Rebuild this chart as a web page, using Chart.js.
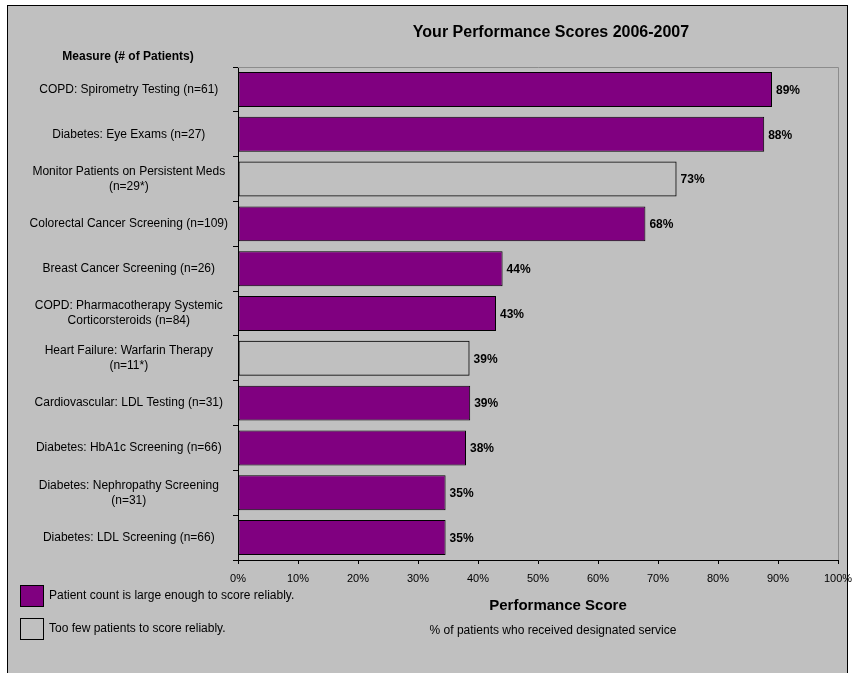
<!DOCTYPE html>
<html>
<head>
<meta charset="utf-8">
<title>Your Performance Scores 2006-2007</title>
<script src="https://cdn.jsdelivr.net/npm/chart.js@4"></script>
<style>
  html, body { margin: 0; padding: 0; background: #ffffff; }
  #wrap { width: 854px; height: 673px; }
</style>
</head>
<body>
<div id="wrap"><canvas id="scores" width="854" height="673"></canvas></div>
<script>
// Measures shown on the y axis (top to bottom)
const measures = [
  'COPD: Spirometry Testing (n=61)',
  'Diabetes: Eye Exams (n=27)',
  ['Monitor Patients on Persistent Meds', '(n=29*)'],
  'Colorectal Cancer Screening (n=109)',
  'Breast Cancer Screening (n=26)',
  ['COPD: Pharmacotherapy Systemic', 'Corticorsteroids (n=84)'],
  ['Heart Failure: Warfarin Therapy', '(n=11*)'],
  'Cardiovascular: LDL Testing (n=31)',
  'Diabetes: HbA1c Screening (n=66)',
  ['Diabetes: Nephropathy Screening', '(n=31)'],
  'Diabetes: LDL Screening (n=66)'
];
// Performance score in percent
const scores = [89.0, 87.7, 73.1, 67.9, 44.1, 43.0, 38.6, 38.7, 38.0, 34.6, 34.6];
// Labels printed at the end of each bar
const scoreLabels = ['89%', '88%', '73%', '68%', '44%', '43%', '39%', '39%', '38%', '35%', '35%'];
// Whether the patient count is large enough to score reliably
const reliable = [true, true, false, true, true, true, false, true, true, true, true];
// X axis ticks
const xTicks = [0, 10, 20, 30, 40, 50, 60, 70, 80, 90, 100];

const PURPLE = '#800080';
const HOLLOW = 'rgba(0,0,0,0)';
const BG = '#c0c0c0';
const FONT = 'Arial, "Liberation Sans", sans-serif';

Chart.defaults.font.family = FONT;
Chart.defaults.color = '#000';

// Grey frame behind everything
const framePlugin = {
  id: 'frame',
  beforeDraw(chart) {
    const ctx = chart.ctx;
    ctx.save();
    ctx.fillStyle = '#ffffff';
    ctx.fillRect(0, 0, chart.width, chart.height);
    ctx.fillStyle = BG;
    ctx.fillRect(7, 5, 840, 720);
    ctx.strokeStyle = '#000';
    ctx.lineWidth = 1;
    ctx.strokeRect(7.5, 5.5, 840, 720);
    ctx.restore();
  },
  beforeDatasetsDraw(chart) {
    // top and right edges of the plot area
    const a = chart.chartArea;
    const ctx = chart.ctx;
    ctx.save();
    ctx.strokeStyle = '#8c8c8c';
    ctx.lineWidth = 1;
    ctx.beginPath();
    ctx.moveTo(a.left, a.top + 0.5);
    ctx.lineTo(a.right + 0.5, a.top + 0.5);
    ctx.lineTo(a.right + 0.5, a.bottom);
    ctx.stroke();
    ctx.restore();
  }
};

// Percent labels at bar ends
const barLabelPlugin = {
  id: 'barLabels',
  afterDatasetsDraw(chart) {
    const ctx = chart.ctx;
    const bars = chart.getDatasetMeta(0).data;
    ctx.save();
    ctx.font = 'bold 12px ' + FONT;
    ctx.fillStyle = '#000';
    ctx.textAlign = 'left';
    ctx.textBaseline = 'middle';
    bars.forEach(function(bar, i) {
      ctx.fillText(scoreLabels[i], bar.x + 4, bar.y + 1);
    });
    ctx.restore();
  }
};

// Title, headings and the two-row legend
const textPlugin = {
  id: 'texts',
  afterDraw(chart) {
    const ctx = chart.ctx;
    ctx.save();
    ctx.fillStyle = '#000';
    ctx.textBaseline = 'middle';

    ctx.textAlign = 'center';
    ctx.font = 'bold 16px ' + FONT;
    ctx.fillText('Your Performance Scores 2006-2007', 551, 33);

    ctx.font = 'bold 12px ' + FONT;
    ctx.fillText('Measure (# of Patients)', 128, 57);

    ctx.font = 'bold 15px ' + FONT;
    ctx.fillText('Performance Score', 558, 606);

    ctx.font = '12px ' + FONT;
    ctx.fillText('% of patients who received designated service', 553, 631);

    // legend
    const items = [
      { fill: PURPLE, text: 'Patient count is large enough to score reliably.', y: 585 },
      { fill: BG, text: 'Too few patients to score reliably.', y: 618 }
    ];
    ctx.textAlign = 'left';
    items.forEach(function(it) {
      ctx.fillStyle = it.fill;
      ctx.fillRect(20, it.y, 24, 22);
      ctx.strokeStyle = '#000';
      ctx.lineWidth = 1;
      ctx.strokeRect(20.5, it.y + 0.5, 23, 21);
      ctx.fillStyle = '#000';
      ctx.fillText(it.text, 49, it.y + 11);
    });
    ctx.restore();
  }
};

const ctx = document.getElementById('scores').getContext('2d');
new Chart(ctx, {
  type: 'bar',
  data: {
    labels: measures,
    datasets: [{
      data: scores,
      backgroundColor: reliable.map(r => r ? PURPLE : HOLLOW),
      borderColor: '#000',
      borderWidth: 1,
      borderSkipped: false,
      barPercentage: 0.78,
      categoryPercentage: 1
    }]
  },
  options: {
    indexAxis: 'y',
    responsive: false,
    animation: false,
    layout: { padding: { top: 67, right: 16, bottom: 88, left: 0 } },
    plugins: {
      legend: { display: false },
      title: { display: false },
      tooltip: { enabled: false }
    },
    scales: {
      x: {
        min: 0,
        max: 100,
        afterBuildTicks: function(scale) {
          scale.ticks = xTicks.map(v => ({ value: v }));
        },
        afterFit: function(scale) {
          scale.height = 25;
          scale.paddingLeft = 0;
          scale.paddingRight = 0;
        },
        ticks: {
          callback: function(v) { return v + '%'; },
          font: { size: 11 },
          padding: 8,
          maxRotation: 0
        },
        grid: {
          drawOnChartArea: false,
          tickLength: 4,
          color: '#000'
        },
        border: { color: '#000', width: 1 }
      },
      y: {
        afterFit: function(scale) { scale.width = 238; },
        ticks: {
          crossAlign: 'center',
          padding: 5,
          autoSkip: false,
          font: { size: 12, lineHeight: 1.25 }
        },
        grid: {
          drawOnChartArea: false,
          offset: true,
          tickLength: 5,
          color: '#000'
        },
        border: { color: '#000', width: 1 }
      }
    }
  },
  plugins: [framePlugin, barLabelPlugin, textPlugin]
});
</script>
</body>
</html>
